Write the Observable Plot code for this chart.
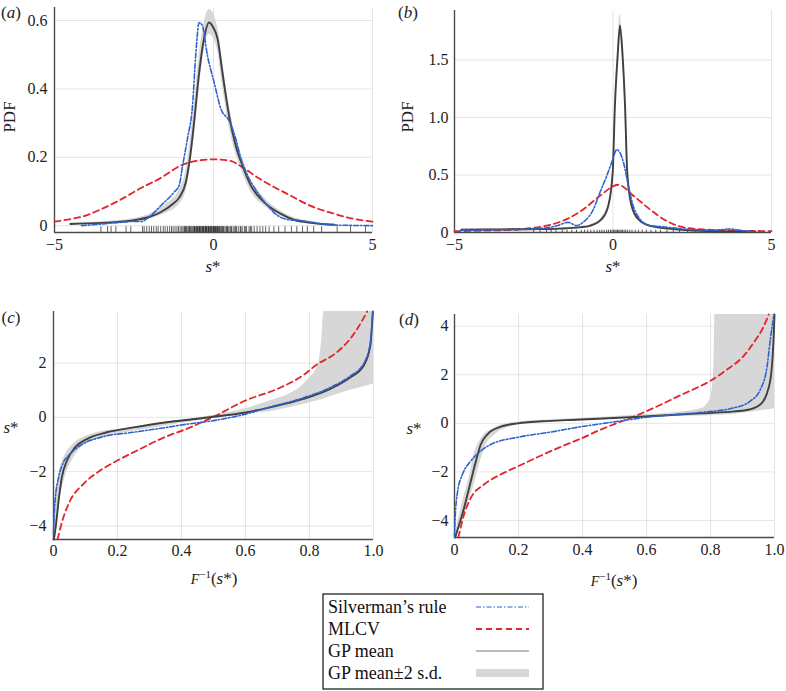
<!DOCTYPE html>
<html><head><meta charset="utf-8">
<script src="https://cdn.jsdelivr.net/npm/d3@7"></script>
<script src="https://cdn.jsdelivr.net/npm/@observablehq/plot@0.6"></script>
<style>
body{margin:0;background:#fff;}
#root{position:relative;width:786px;height:691px;font-family:"Liberation Serif",serif;color:#222;overflow:hidden;}
.lab{position:absolute;font-size:17px;white-space:nowrap;line-height:1;transform:translate(-50%,-50%);}
</style></head><body><div id="root"></div>
<script>
// ---------- Panel (a): PDF ----------
const aGPmean = [[-4.5,0.005],[-3.5,0.008],[-3.0,0.011],[-2.5,0.016],[-2.0,0.026],[-1.65,0.04],[-1.3,0.062],[-1.08,0.082],[-0.87,0.127],[-0.73,0.205],[-0.61,0.302],[-0.45,0.448],[-0.3,0.546],[-0.14,0.594],[0.0,0.578],[0.13,0.546],[0.28,0.448],[0.49,0.322],[0.7,0.234],[0.91,0.176],[1.17,0.118],[1.59,0.069],[2.11,0.035],[2.5,0.018],[3.0,0.009],[3.5,0.004],[3.8,0.003]];
const aGPband = [[-4.5,0.003,0.008],[-3.0,0.008,0.015],[-2.0,0.02,0.034],[-1.5,0.036,0.062],[-1.08,0.062,0.104],[-0.87,0.1,0.16],[-0.73,0.17,0.25],[-0.61,0.26,0.35],[-0.45,0.4,0.5],[-0.3,0.51,0.59],[-0.14,0.56,0.632],[0.0,0.548,0.62],[0.13,0.51,0.58],[0.28,0.41,0.485],[0.49,0.29,0.355],[0.7,0.21,0.262],[0.91,0.155,0.2],[1.17,0.1,0.136],[1.59,0.058,0.082],[2.11,0.027,0.043],[3.0,0.005,0.013],[3.8,0.001,0.005]];
const aSilverman = [[-4.15,0.0],[-3.5,0.005],[-3.0,0.009],[-2.6,0.012],[-2.28,0.012],[-1.97,0.03],[-1.65,0.059],[-1.24,0.098],[-1.08,0.118],[-0.97,0.176],[-0.82,0.254],[-0.66,0.351],[-0.56,0.497],[-0.45,0.594],[-0.35,0.585],[-0.19,0.497],[0.02,0.419],[0.23,0.342],[0.49,0.307],[0.7,0.254],[0.86,0.196],[1.07,0.147],[1.38,0.098],[1.7,0.059],[2.01,0.03],[2.4,0.017],[2.7,0.015],[3.1,0.01],[3.5,0.004],[3.75,0.002],[4.2,0.001],[5.0,0.0]];
const aMLCV = [[-5,0.012],[-4.5,0.019],[-4,0.03],[-3.54,0.048],[-3,0.072],[-2.28,0.11],[-1.65,0.14],[-1.03,0.176],[-0.5,0.19],[0.02,0.194],[0.5,0.19],[0.96,0.168],[1.4,0.14],[1.9,0.113],[2.32,0.093],[3.0,0.06],[3.79,0.035],[4.4,0.02],[5,0.012]];
const aRug = [-3.54,-3.33,-3.22,-3.07,-2.75,-2.6,-2.23,-2.18,-2.1,-2.02,-1.95,-1.88,-1.8,-1.74,-1.66,-1.58,-1.52,-1.45,-1.38,-1.32,-1.27,-1.21,-1.15,-1.1,-1.05,-1.0,-0.96,-0.92,-0.88,-0.85,-0.81,-0.78,-0.74,-0.71,-0.68,-0.65,-0.62,-0.59,-0.56,-0.53,-0.5,-0.48,-0.45,-0.42,-0.4,-0.37,-0.35,-0.32,-0.3,-0.27,-0.25,-0.22,-0.2,-0.17,-0.15,-0.12,-0.1,-0.07,-0.05,-0.02,0.0,0.03,0.06,0.09,0.12,0.15,0.18,0.21,0.25,0.28,0.32,0.36,0.4,0.44,0.48,0.52,0.57,0.62,0.67,0.72,0.78,0.84,0.9,0.97,1.04,1.12,1.2,1.28,1.37,1.46,1.55,1.64,1.75,1.9,2.05,2.25,2.45,2.62,2.8,2.95,3.15,3.4,3.89,4.31,4.78,
  -0.9,-0.75,-0.6,-0.52,-0.44,-0.33,-0.24,-0.16,-0.08,0.01,0.07,0.13,0.2,0.3,0.42,0.55,0.7,0.86,1.0,1.16];

// ---------- Panel (b): PDF ----------
const bGPmean = [[-4.78,0.025],[-4,0.027],[-3,0.028],[-2.3,0.029],[-1.67,0.034],[-1.05,0.045],[-0.73,0.058],[-0.36,0.116],[-0.15,0.23],[-0.01,0.52],[0.06,1.1],[0.15,1.55],[0.22,1.8],[0.3,1.55],[0.38,1.1],[0.45,0.52],[0.59,0.23],[0.8,0.116],[1.17,0.058],[1.9,0.029],[2.74,0.014],[3.5,0.01],[4.5,0.008]];
const bGPband = [[-4.78,0.018,0.03],[-3,0.022,0.034],[-1.67,0.028,0.04],[-1.05,0.038,0.052],[-0.73,0.05,0.066],[-0.36,0.1,0.13],[-0.15,0.21,0.25],[-0.01,0.48,0.56],[0.06,1.04,1.16],[0.15,1.48,1.62],[0.22,1.72,1.9],[0.3,1.48,1.62],[0.38,1.04,1.16],[0.45,0.48,0.56],[0.59,0.21,0.25],[0.8,0.1,0.13],[1.17,0.05,0.066],[1.9,0.022,0.036],[2.74,0.008,0.02],[3.5,0.004,0.016],[4.5,0.003,0.013]];
const bSilverman = [[-4.8,0.02],[-4,0.022],[-3,0.025],[-2.31,0.035],[-2.09,0.04],[-1.78,0.058],[-1.41,0.088],[-1.15,0.06],[-0.94,0.09],[-0.62,0.2],[-0.41,0.35],[-0.2,0.49],[-0.04,0.61],[0.12,0.72],[0.33,0.61],[0.48,0.41],[0.64,0.23],[0.85,0.116],[1.17,0.06],[1.59,0.05],[1.9,0.04],[2.5,0.025],[3.2,0.02],[3.68,0.03],[4.1,0.015],[4.5,0.008]];
const bMLCV = [[-5,0.012],[-4,0.016],[-3,0.026],[-2.52,0.04],[-2.09,0.06],[-1.46,0.116],[-0.94,0.2],[-0.41,0.32],[0.17,0.415],[0.64,0.32],[1.17,0.2],[1.69,0.1],[2.32,0.04],[3,0.024],[3.57,0.018],[4.3,0.014],[5,0.012]];
const bRug = [-2.5,-2.3,-2.1,-1.95,-1.8,-1.6,-1.45,-1.3,-1.15,-1.0,-0.9,-0.8,-0.7,-0.6,-0.5,-0.42,-0.35,-0.28,-0.2,-0.14,-0.08,-0.03,0.02,0.06,0.1,0.14,0.18,0.22,0.26,0.3,0.35,0.4,0.46,0.53,0.6,0.7,0.8,0.92,1.05,1.2,1.35,1.5,1.7,1.9,2.1,2.35,2.6,2.9,3.2,3.5,3.8,4.0];

// ---------- Panel (c): quantile ----------
const cGPmean = [[0.0,-4.5],[0.002,-4.42],[0.008,-3.93],[0.016,-3.07],[0.026,-2.21],[0.042,-1.6],[0.068,-1.1],[0.104,-0.8],[0.167,-0.55],[0.25,-0.37],[0.354,-0.18],[0.45,-0.05],[0.5,0.02],[0.6,0.18],[0.677,0.37],[0.781,0.68],[0.865,1.05],[0.927,1.47],[0.969,1.9],[0.99,2.64],[0.998,3.9]];
const cGPband = [[0.0,-4.5,-3.9],[0.005,-4.2,-3.1],[0.01,-3.7,-2.6],[0.02,-3.0,-1.9],[0.03,-2.5,-1.55],[0.04,-2.05,-1.3],[0.06,-1.55,-1.0],[0.08,-1.2,-0.82],[0.1,-1.0,-0.7],[0.15,-0.75,-0.52],[0.2,-0.62,-0.45],[0.3,-0.42,-0.27],[0.4,-0.22,-0.1],[0.5,-0.03,0.08],[0.6,0.12,0.32],[0.68,0.22,0.62],[0.74,0.36,0.88],[0.78,0.47,1.2],[0.8,0.53,1.45],[0.82,0.6,1.75],[0.83,0.63,2.1],[0.838,0.65,2.8],[0.845,0.68,3.9],[0.9,0.9,3.9],[0.95,1.06,3.9],[1.0,1.23,3.9]];
const cSilverman = [[0.0,-4.3],[0.002,-3.6],[0.005,-3.07],[0.016,-2.21],[0.031,-1.66],[0.052,-1.35],[0.083,-1.04],[0.146,-0.74],[0.25,-0.55],[0.354,-0.37],[0.4,-0.28],[0.5,-0.12],[0.6,0.12],[0.677,0.38],[0.781,0.72],[0.865,1.1],[0.927,1.52],[0.969,1.98],[0.99,2.75],[0.998,3.9]];
const cMLCV = [[0.0125,-4.5],[0.031,-3.68],[0.052,-3.07],[0.094,-2.45],[0.146,-1.96],[0.198,-1.6],[0.26,-1.23],[0.323,-0.86],[0.36,-0.67],[0.41,-0.45],[0.5,0.02],[0.6,0.62],[0.7,1.05],[0.78,1.55],[0.82,1.92],[0.886,2.4],[0.927,2.89],[0.964,3.55],[0.98,3.9]];

// ---------- Panel (d): quantile ----------
const dGPmean = [[0.002,-4.7],[0.03,-3.48],[0.051,-2.38],[0.067,-1.55],[0.082,-0.87],[0.103,-0.45],[0.145,-0.14],[0.197,0.0],[0.3,0.1],[0.363,0.14],[0.45,0.19],[0.55,0.25],[0.65,0.32],[0.769,0.41],[0.874,0.49],[0.925,0.58],[0.956,0.78],[0.977,1.26],[0.99,2.09],[0.998,3.74],[1.0,4.48]];
const dGPband = [[0.0,-4.7,-4.7],[0.02,-4.2,-3.5],[0.04,-3.4,-2.5],[0.05,-3.0,-2.0],[0.06,-2.6,-1.3],[0.07,-2.1,-0.95],[0.08,-1.6,-0.7],[0.09,-1.2,-0.5],[0.1,-0.85,-0.38],[0.12,-0.55,-0.22],[0.145,-0.3,-0.07],[0.2,-0.07,0.05],[0.3,0.05,0.15],[0.4,0.12,0.21],[0.5,0.18,0.28],[0.6,0.23,0.36],[0.7,0.28,0.46],[0.77,0.3,0.6],[0.795,0.31,0.9],[0.806,0.32,1.5],[0.811,0.33,2.6],[0.814,0.33,4.48],[0.9,0.42,4.48],[1.0,0.6,4.48]];
const dSilverman = [[0.0,-4.7],[0.002,-3.9],[0.01,-2.79],[0.025,-2.1],[0.051,-1.55],[0.082,-1.14],[0.113,-0.87],[0.2,-0.57],[0.3,-0.36],[0.4,-0.13],[0.5,0.06],[0.6,0.25],[0.7,0.37],[0.769,0.45],[0.874,0.64],[0.925,0.92],[0.956,1.4],[0.977,2.36],[0.987,3.46],[0.996,4.29],[0.998,4.48]];
const dMLCV = [[0.012,-4.7],[0.03,-3.75],[0.051,-3.07],[0.092,-2.52],[0.145,-2.1],[0.197,-1.78],[0.25,-1.45],[0.33,-0.98],[0.4,-0.6],[0.45,-0.3],[0.5,-0.03],[0.55,0.22],[0.6,0.5],[0.65,0.8],[0.7,1.12],[0.75,1.42],[0.8,1.75],[0.85,2.2],[0.9,2.72],[0.935,3.32],[0.967,4.01],[0.982,4.48]];

// ---------- Ticks & legend ----------
const pdfXTicks = [-5, 0, 5];
const aYTicks = [0, 0.2, 0.4, 0.6];
const bYTicks = [0, 0.5, 1.0, 1.5];
const qXTicks = [0, 0.2, 0.4, 0.6, 0.8, 1.0];
const cYTicks = [-4, -2, 0, 2];
const dYTicks = [-4, -2, 0, 2, 4];
const legendLabels = ["Silverman\u2019s rule", "MLCV", "GP mean", "GP mean\u00b12 s.d."];

// ---------- Drawing ----------
const COL = {silv:"#2e62cf", mlcv:"#e3242b", gp:"#404040", band:"#d7d7d7", axis:"#4a4a4a"};
const FONT = "Liberation Serif";
const TICK_FS = 16;
const root = document.getElementById("root");
const toXY = arr => arr.map(([x, y]) => ({x, y}));
const toBand = arr => arr.map(([x, lo, hi]) => ({x, lo, hi}));
const minus = s => s.replace("-", "\u2212");
const fmtInt = d => minus(String(d));
const fmt1 = d => d === 0 ? "0" : minus(d.toFixed(1));

function panel(c) {
  const marks = [
    Plot.ruleY(c.yTicks, {y: d => d, stroke: "#000", strokeOpacity: 0.1}),
    Plot.ruleX(c.xTicks, {x: d => d, stroke: "#000", strokeOpacity: 0.1}),
    Plot.areaY(toBand(c.band), {x: "x", y1: "lo", y2: "hi", fill: COL.band, curve: "monotone-x"})
  ];
  if (c.rug) marks.push(Plot.ruleX(c.rug, {x: d => d, y1: c.rugY[0], y2: c.rugY[1], stroke: "#111", strokeOpacity: c.rugOp, strokeWidth: 1}));
  marks.push(
    Plot.ruleX([c.xDomain[0]], {stroke: COL.axis, strokeWidth: 1.4}),
    Plot.ruleY([c.yDomain[0]], {stroke: COL.axis, strokeWidth: 1.4}),
    Plot.line(toXY(c.mlcv), {x: "x", y: "y", stroke: COL.mlcv, strokeWidth: 1.8, strokeDasharray: "6,4", curve: "monotone-x"}),
    Plot.line(toXY(c.gp), {x: "x", y: "y", stroke: COL.gp, strokeWidth: 1.9, curve: "monotone-x"}),
    Plot.line(toXY(c.silv), {x: "x", y: "y", stroke: COL.silv, strokeWidth: 1.6, strokeDasharray: "5,2,1.5,2", curve: "monotone-x"}),
    Plot.text(c.xTicks, {x: d => d, frameAnchor: "bottom", dy: c.xDy, text: c.xFmt, fontFamily: FONT, fontSize: TICK_FS, fill: "#222"}),
    Plot.text(c.yTicks, {y: d => d, frameAnchor: "left", dx: -c.yPad, textAnchor: "end", text: c.yFmt, fontFamily: FONT, fontSize: TICK_FS, fill: "#222"})
  );
  const p = Plot.plot({
    width: c.w, height: c.h,
    marginLeft: c.m[0], marginRight: c.m[1], marginTop: c.m[2], marginBottom: c.m[3],
    x: {domain: c.xDomain, axis: null},
    y: {domain: c.yDomain, axis: null},
    style: {background: "transparent", overflow: "visible"},
    marks
  });
  p.style.position = "absolute";
  p.style.left = c.left + "px";
  p.style.top = c.top + "px";
  root.appendChild(p);
}

panel({left: 0, top: 0, w: 393, h: 290, m: [54, 21, 7, 58],
  xDomain: [-5, 5], yDomain: [-0.02, 0.638], xTicks: pdfXTicks, yTicks: aYTicks, xFmt: fmtInt, yFmt: d => d === 0 ? "0" : d.toFixed(1), xDy: 17, yPad: 7,
  band: aGPband, gp: aGPmean, silv: aSilverman, mlcv: aMLCV, rug: aRug, rugY: [-0.02, -0.003], rugOp: 0.65});
panel({left: 393, top: 0, w: 393, h: 290, m: [61, 15, 10, 58],
  xDomain: [-5, 5], yDomain: [0, 1.93], xTicks: pdfXTicks, yTicks: bYTicks, xFmt: fmtInt, yFmt: fmt1, xDy: 17, yPad: 6,
  band: bGPband, gp: bGPmean, silv: bSilverman, mlcv: bMLCV, rug: bRug, rugY: [0, 0.02], rugOp: 0.7});
panel({left: 0, top: 290, w: 393, h: 300, m: [53, 20, 21, 51],
  xDomain: [0, 1], yDomain: [-4.5, 3.9], xTicks: qXTicks, yTicks: cYTicks, xFmt: fmt1, yFmt: fmtInt, xDy: 16.5, yPad: 7,
  band: cGPband, gp: cGPmean, silv: cSilverman, mlcv: cMLCV});
panel({left: 393, top: 290, w: 393, h: 300, m: [61, 12, 24, 53],
  xDomain: [0, 1], yDomain: [-4.7, 4.48], xTicks: qXTicks, yTicks: dYTicks, xFmt: fmt1, yFmt: fmtInt, xDy: 17.5, yPad: 6,
  band: dGPband, gp: dGPmean, silv: dSilverman, mlcv: dMLCV});

// ---------- Text labels ----------
function label(html, cx, cy, extra) {
  const s = document.createElement("div");
  s.className = "lab";
  s.innerHTML = html;
  s.style.left = cx + "px";
  s.style.top = cy + "px";
  if (extra) Object.assign(s.style, extra);
  root.appendChild(s);
}
label("(<i>a</i>)", 11, 12);
label("(<i>b</i>)", 408, 12);
label("(<i>c</i>)", 11, 317);
label("(<i>d</i>)", 409, 319);
label("PDF", 9, 117, {transform: "translate(-50%,-50%) rotate(-90deg)"});
label("PDF", 407, 117, {transform: "translate(-50%,-50%) rotate(-90deg)"});
label("<i>s</i>*", 213, 266);
label("<i>s</i>*", 613, 266);
label("<i>s</i>*", 11, 427);
label("<i>s</i>*", 414, 428);
label("<i style='font-size:14px'>F</i><sup style='font-size:11px'>\u22121</sup>(<i>s</i>*)", 214, 578);
label("<i style='font-size:14px'>F</i><sup style='font-size:11px'>\u22121</sup>(<i>s</i>*)", 614, 580);

// ---------- Legend ----------
const leg = d3.create("svg").attr("width", 222).attr("height", 97)
  .style("position", "absolute").style("left", "322px").style("top", "593px")
  .style("font-family", FONT).style("font-size", "18px");
leg.append("rect").attr("x", 1).attr("y", 1).attr("width", 220).attr("height", 95).attr("fill", "#fff").attr("stroke", "#111").attr("stroke-width", 1.2);
const rowsY = [14, 36, 58, 80];
legendLabels.forEach((t, i) => {
  leg.append("text").attr("x", 6).attr("y", rowsY[i] + 6).attr("fill", "#111").text(t);
});
leg.append("line").attr("x1", 154).attr("x2", 207).attr("y1", rowsY[0]).attr("y2", rowsY[0]).attr("stroke", COL.silv).attr("stroke-width", 1.2).attr("stroke-dasharray", "5,2,1.5,2");
leg.append("line").attr("x1", 154).attr("x2", 207).attr("y1", rowsY[1]).attr("y2", rowsY[1]).attr("stroke", COL.mlcv).attr("stroke-width", 2).attr("stroke-dasharray", "6,4");
leg.append("line").attr("x1", 154).attr("x2", 207).attr("y1", rowsY[2]).attr("y2", rowsY[2]).attr("stroke", "#777").attr("stroke-width", 1);
leg.append("rect").attr("x", 154).attr("y", rowsY[3] - 4).attr("width", 53).attr("height", 8).attr("fill", COL.band);
root.appendChild(leg.node());
</script>
</body></html>
